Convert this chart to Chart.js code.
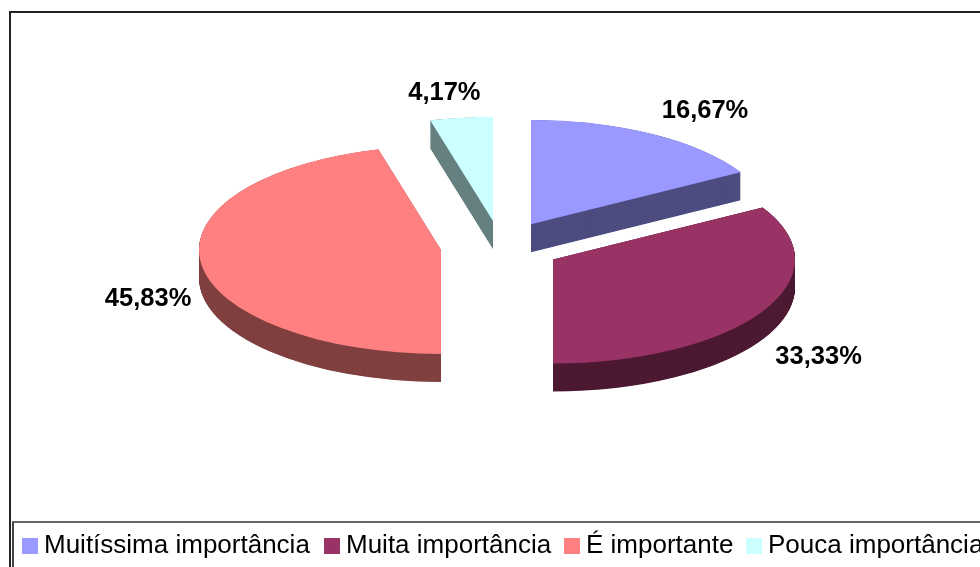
<!DOCTYPE html>
<html lang="pt">
<head>
<meta charset="utf-8">
<title>Grau de importância</title>
<script src="https://cdn.jsdelivr.net/npm/chart.js@4/dist/chart.umd.min.js"></script>
<style>
    html, body { margin: 0; width: 980px; height: 567px; overflow: hidden; background: #fff; }
    #quadro { position: absolute; left: 9px; top: 11px; width: 971px; height: 556px; box-sizing: border-box; border-top: 2px solid #222; border-left: 2px solid #222; }
    #grafico { position: absolute; left: 0; top: 0; }
    #legenda { position: absolute; left: 12px; top: 521px; width: 968px; height: 46px; box-sizing: border-box; border-top: 2px solid #666; border-left: 2px solid #444; font: 26px "Liberation Sans", Arial, sans-serif; color: #000; white-space: nowrap; overflow: hidden; }
    #legenda span { position: absolute; top: 6px; line-height: 30px; }
    #legenda i { position: absolute; top: 15px; width: 16px; height: 16px; }
</style>
</head>
<body>
<div id="quadro"></div>
<canvas id="grafico" width="980" height="567"></canvas>
<div id="legenda"></div>
<script>
// Dados do gráfico
const categorias = ["Muitíssima importância", "Muita importância", "É importante", "Pouca importância"];
const valores = [16.67, 33.33, 45.83, 4.17];
const rotulos = ["16,67%", "33,33%", "45,83%", "4,17%"];
const cores = ["#9999FF", "#993366", "#FF8080", "#CCFFFF"];
const coresLaterais = ["#4D4D80", "#4D1A33", "#804040", "#668080"];

// Aparência da pizza em 3D
const ACHATAMENTO = 0.43;
const EXPLOSAO = 60;
const ALTURA = 28;
const deslocRotulos = [[53, -23], [56, 46], [-53, 36], [-17, -25]];

// Deslocamento de cada fatia para fora do centro
function centroFatia(arco) {
    const meio = (arco.startAngle + arco.endAngle) / 2;
    return { x: Math.round(arco.x + Math.cos(meio) * EXPLOSAO), y: arco.y + Math.sin(meio) * EXPLOSAO, meio: meio };
}

// Desenha a pizza achatada: primeiro as laterais, depois os topos
const pizza3d = {
    id: "pizza3d",
    beforeDatasetDraw(chart) {
        const ctx = chart.ctx;
        const arcos = chart.getDatasetMeta(0).data;
        const cy = arcos[0].y;

        ctx.save();
        ctx.translate(0, cy);
        ctx.scale(1, ACHATAMENTO);
        ctx.translate(0, -cy);

        arcos.forEach((arco, i) => {
            const c = centroFatia(arco);
            ctx.fillStyle = coresLaterais[i];
            for (let d = ALTURA / ACHATAMENTO; d > 0; d -= 1) {
                ctx.beginPath();
                ctx.moveTo(c.x, c.y + d);
                ctx.arc(c.x, c.y + d, arco.outerRadius, arco.startAngle, arco.endAngle);
                ctx.closePath();
                ctx.fill();
            }
        });

        arcos.forEach(arco => {
            const c = centroFatia(arco);
            ctx.save();
            ctx.translate(c.x - arco.x, c.y - arco.y);
            arco.draw(ctx);
            ctx.restore();
        });
        ctx.restore();

        // Rótulos de porcentagem
        ctx.save();
        ctx.font = "bold 25.5px 'Liberation Sans', Arial, sans-serif";
        ctx.fillStyle = "#000";
        ctx.textAlign = "center";
        ctx.textBaseline = "middle";
        arcos.forEach((arco, i) => {
            const c = centroFatia(arco);
            const x = c.x + Math.cos(c.meio) * arco.outerRadius;
            const y = cy + (c.y + Math.sin(c.meio) * arco.outerRadius - cy) * ACHATAMENTO;
            ctx.fillText(rotulos[i], x + deslocRotulos[i][0], y + deslocRotulos[i][1]);
        });
        ctx.restore();
        return false;
    }
};

new Chart(document.getElementById("grafico"), {
    type: "pie",
    data: {
        labels: categorias,
        datasets: [{
            data: valores,
            backgroundColor: cores,
            borderWidth: 0,
            clip: false
        }]
    },
    options: {
        responsive: false,
        animation: false,
        radius: 242,
        layout: { padding: { left: 21.8, bottom: 74 } },
        plugins: { legend: { display: false }, tooltip: { enabled: false } }
    },
    plugins: [pizza3d]
});

// Legenda na faixa de baixo
const legenda = document.getElementById("legenda");
const posicoes = [8, 310, 550, 732];
categorias.forEach((nome, i) => {
    const caixa = document.createElement("i");
    caixa.style.left = posicoes[i] + "px";
    caixa.style.background = cores[i];
    legenda.appendChild(caixa);
    const texto = document.createElement("span");
    texto.style.left = (posicoes[i] + 22) + "px";
    texto.textContent = nome;
    legenda.appendChild(texto);
});
</script>
</body>
</html>
